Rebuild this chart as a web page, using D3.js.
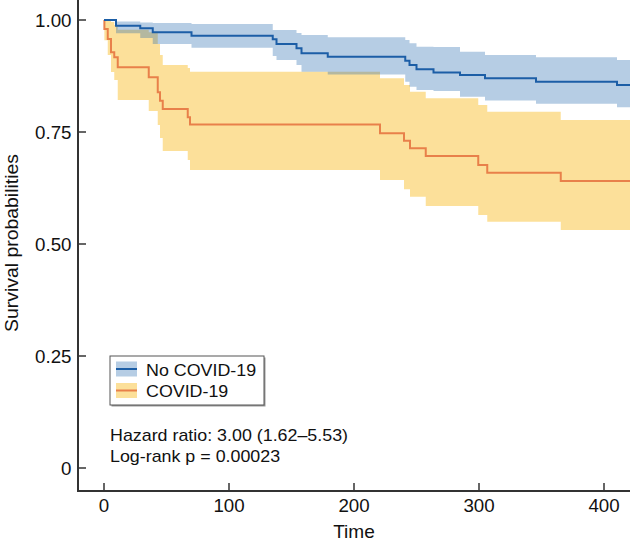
<!DOCTYPE html>
<html><head><meta charset="utf-8">
<script src="https://cdn.jsdelivr.net/npm/d3@7"></script>
<style>body{margin:0;background:#fff}text{font-family:"Liberation Sans",Arial,Helvetica,sans-serif;fill:#111}</style>
</head><body><svg id="c" width="630" height="542"></svg>
<script>
// ---- data ----
const groups = ["No COVID-19", "COVID-19"];
const noCovidTime  = [0, 9.6, 29, 39, 70, 135, 138, 154, 158, 179, 241, 244.4, 250, 263.6, 284.8, 304.8, 345.6, 410.4, 421];
const noCovidSurv  = [1, 0.9873, 0.9815, 0.9725, 0.965, 0.9569, 0.9464, 0.9368, 0.9257, 0.918, 0.9092, 0.8996, 0.89, 0.8828, 0.8772, 0.8699, 0.8623, 0.8549, 0.8549];
const noCovidUpper = [1, 0.9967, 0.9944, 0.9933, 0.9911, 0.9777, 0.9777, 0.971, 0.9665, 0.9614, 0.9554, 0.948, 0.9404, 0.9397, 0.9292, 0.9219, 0.9167, 0.9107, 0.9107];
const noCovidLower = [1, 0.9703, 0.9598, 0.9464, 0.9382, 0.9196, 0.9107, 0.8996, 0.8846, 0.8784, 0.8623, 0.8511, 0.8438, 0.8415, 0.8288, 0.8203, 0.8129, 0.8051, 0.8051];

const covidTime  = [0, 0.3, 3, 5.6, 8.2, 11, 35.8, 43, 44.8, 47, 67, 68.8, 220.8, 240, 244.8, 257.4, 299.4, 306.6, 365.4, 421];
const covidSurv  = [1, 0.98, 0.9576, 0.928, 0.9167, 0.8944, 0.8721, 0.8386, 0.8199, 0.8013, 0.7828, 0.7667, 0.7471, 0.7306, 0.7136, 0.6964, 0.6763, 0.6592, 0.6406, 0.6406];
const covidUpper = [1, 1, 1, 0.9955, 0.989, 0.978, 0.9725, 0.9464, 0.9219, 0.8996, 0.8929, 0.8846, 0.8699, 0.8549, 0.84, 0.8252, 0.8103, 0.7953, 0.7768, 0.7768];
const covidLower = [1, 0.955, 0.922, 0.884, 0.866, 0.8214, 0.7969, 0.7656, 0.7366, 0.7076, 0.6875, 0.6652, 0.6429, 0.6221, 0.6056, 0.5848, 0.5647, 0.5498, 0.5313, 0.5313];

const xTicks = [0, 100, 200, 300, 400];
const yTicks = [0, 0.25, 0.5, 0.75, 1];
const yTickLabels = ["0", "0.25", "0.50", "0.75", "1.00"];
const annotations = ["Hazard ratio: 3.00 (1.62\u20135.53)", "Log-rank p = 0.00023"];

// ---- layout ----
const svg = d3.select("#c");
const x = d3.scaleLinear().domain([0, 400]).range([104, 604]);
const y = d3.scaleLinear().domain([0, 1]).range([468, 20]);
const pL = 78, pR = 630, pT = 0, pB = 491;

function txt(g, px, py, s, size, sx, anchor, rot) {
  return g.append("text").attr("font-size", size).attr("text-anchor", anchor || "start")
    .attr("transform", `translate(${px},${py})` + (rot ? ` rotate(${rot})` : "") + ` scale(${sx},1)`)
    .text(s);
}

svg.append("defs").append("clipPath").attr("id", "clip")
  .append("rect").attr("x", pL).attr("y", pT).attr("width", pR - pL).attr("height", pB - pT);

const series = [
  {name: groups[0], t: noCovidTime, s: noCovidSurv, lo: noCovidLower, up: noCovidUpper,
   line: "#1c5ea6", fill: "#2166ac", op: 0.33},
  {name: groups[1], t: covidTime, s: covidSurv, lo: covidLower, up: covidUpper,
   line: "#e8804a", fill: "#f9be28", op: 0.47}
];
series.forEach(d => d.pts = d.t.map((t, i) => ({t, s: d.s[i], lo: d.lo[i], up: d.up[i]})));

const plot = svg.append("g").attr("clip-path", "url(#clip)");
const area = d3.area().curve(d3.curveStepAfter).x(d => x(d.t)).y0(d => y(d.lo)).y1(d => y(d.up));
const line = d3.line().curve(d3.curveStepAfter).x(d => x(d.t)).y(d => y(d.s));

[series[1], series[0]].forEach(d => {
  plot.append("path").attr("d", area(d.pts)).attr("fill", d.fill).attr("fill-opacity", d.op).attr("stroke", "none");
});
[series[1], series[0]].forEach(d => {
  plot.append("path").attr("d", line(d.pts)).attr("fill", "none").attr("stroke", d.line).attr("stroke-width", 2);
});

// axes
const axG = svg.append("g");
axG.append("line").attr("x1", pL).attr("x2", pL).attr("y1", pT).attr("y2", pB + 1)
  .attr("stroke", "#333").attr("stroke-width", 2);
axG.append("line").attr("x1", pL - 1).attr("x2", pR).attr("y1", pB).attr("y2", pB)
  .attr("stroke", "#333").attr("stroke-width", 2);
yTicks.forEach((v, i) => {
  axG.append("line").attr("x1", pL).attr("x2", pL + 8).attr("y1", y(v)).attr("y2", y(v))
    .attr("stroke", "#333").attr("stroke-width", 1.5);
  txt(axG, 71.5, y(v) + 6.5, yTickLabels[i], 17.5, 1.07, "end");
});
xTicks.forEach(v => {
  axG.append("line").attr("x1", x(v)).attr("x2", x(v)).attr("y1", pB).attr("y2", pB - 8)
    .attr("stroke", "#333").attr("stroke-width", 1.5);
  txt(axG, x(v), 511.5, String(v), 17.5, 1.07, "middle");
});
txt(axG, (pL + pR) / 2, 538, "Time", 17.5, 1.09, "middle");
txt(axG, 17.5, 243, "Survival probabilities", 18.5, 1.05, "middle", -90);

// legend
const lg = svg.append("g");
lg.append("rect").attr("x", 111.5).attr("y", 357.5).attr("width", 154).attr("height", 49).attr("fill", "#999");
lg.append("rect").attr("x", 110).attr("y", 356).attr("width", 154).attr("height", 49)
  .attr("fill", "#fff").attr("stroke", "#555").attr("stroke-width", 1);
series.forEach((d, i) => {
  const cy = 369 + i * 21.5;
  lg.append("rect").attr("x", 116).attr("y", cy - 7.5).attr("width", 21).attr("height", 15)
    .attr("fill", d.fill).attr("fill-opacity", d.op);
  lg.append("line").attr("x1", 116).attr("x2", 137).attr("y1", cy).attr("y2", cy)
    .attr("stroke", d.line).attr("stroke-width", 2);
  txt(lg, 146, cy + 6.5, d.name, 17, 1.05, "start");
});

// annotations
txt(svg, 110, 441, annotations[0], 17, 1.05, "start");
txt(svg, 110, 462, annotations[1], 17, 1.05, "start");
</script></body></html>
